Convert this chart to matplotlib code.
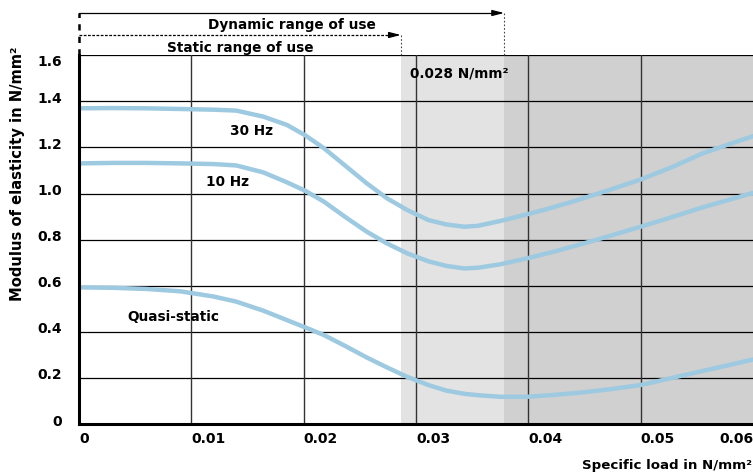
import matplotlib
matplotlib.use("Agg")
import matplotlib.pyplot as plt
import matplotlib.transforms as mtrans

# specific load (N/mm2) and modulus of elasticity (N/mm2)
load = [0, 0.003, 0.006, 0.009, 0.012, 0.014, 0.0164, 0.0185, 0.0201, 0.0218,
        0.0238, 0.0256, 0.0274, 0.0292, 0.0311, 0.0327, 0.0343, 0.0355, 0.0375,
        0.0399, 0.0422, 0.0446, 0.0473, 0.050, 0.0528, 0.0555, 0.0578, 0.060]
e_30hz = [1.370, 1.371, 1.370, 1.367, 1.364, 1.360, 1.334, 1.298, 1.254, 1.197,
          1.117, 1.045, 0.980, 0.929, 0.885, 0.866, 0.856, 0.860, 0.881,
          0.910, 0.940, 0.975, 1.017, 1.061, 1.115, 1.174, 1.213, 1.249]
e_10hz = [1.131, 1.133, 1.133, 1.131, 1.128, 1.122, 1.092, 1.049, 1.013, 0.965,
          0.895, 0.835, 0.784, 0.741, 0.706, 0.686, 0.675, 0.678, 0.693,
          0.719, 0.747, 0.779, 0.817, 0.856, 0.898, 0.940, 0.972, 1.003]
e_quasi = [0.593, 0.591, 0.586, 0.576, 0.553, 0.531, 0.492, 0.451, 0.420, 0.386,
           0.336, 0.289, 0.246, 0.205, 0.169, 0.145, 0.131, 0.125, 0.118,
           0.118, 0.126, 0.136, 0.151, 0.169, 0.200, 0.230, 0.255, 0.280]

static_end = 0.02865
dynamic_end = 0.03784

xticks = [0, 0.01, 0.02, 0.03, 0.04, 0.05, 0.06]
xticklabels = ['0', '0.01', '0.02', '0.03', '0.04', '0.05', '0.06']
yticks = [0, 0.2, 0.4, 0.6, 0.8, 1.0, 1.2, 1.4, 1.6]
yticklabels = ['0', '0.2', '0.4', '0.6', '0.8', '1.0', '1.2', '1.4', '1.6']

plt.rcParams['font.family'] = 'DejaVu Sans'
plt.rcParams['font.weight'] = 'bold'

fig = plt.figure(figsize=(7.53, 4.74), dpi=100)
ax = fig.add_axes([79/753, 50/474, 674/753, 368.7/474])

line_col = '#9dcae0'
ax.axvspan(static_end, dynamic_end, color='#e3e3e3', lw=0, zorder=0)
ax.axvspan(dynamic_end, 0.07, color='#d0d0d0', lw=0, zorder=0)

for y in yticks[1:]:
    ax.axhline(y, color='black', lw=0.9, zorder=1)
for x in xticks[1:-1]:
    ax.axvline(x, color='#333333', lw=1.0, zorder=1)

for vals in (e_30hz, e_10hz, e_quasi):
    ax.plot(load, vals, color=line_col, lw=3.2, solid_capstyle='round',
            solid_joinstyle='round', zorder=3)

ax.text(0.01537, 1.272, '30 Hz', fontsize=9.8, fontweight='bold', ha='center', va='center')
ax.text(0.01323, 1.051, '10 Hz', fontsize=9.8, fontweight='bold', ha='center', va='center')
ax.text(0.00836, 0.466, 'Quasi-static', fontsize=9.8, fontweight='bold', ha='center', va='center')
ax.text(0.0295, 1.523, '0.028 N/mm²', fontsize=9.8, fontweight='bold', ha='left', va='center')

ax.set_xlim(0, 0.06)
ax.set_ylim(0, 1.6)
ax.set_xticks(xticks)
ax.set_xticklabels(xticklabels)
ax.set_yticks(yticks)
ax.set_yticklabels(yticklabels)
ax.tick_params(axis='both', length=0, labelsize=10)
ax.tick_params(axis='x', pad=6)
ax.tick_params(axis='y', pad=12)
for lbl in ax.get_xticklabels():
    lbl.set_horizontalalignment('left')
ax.get_xticklabels()[-1].set_horizontalalignment('right')
# the y labels sit a few pixels above their grid lines in the original
for i, lbl in enumerate(ax.get_yticklabels()):
    dy = -5 if i == len(yticks) - 1 else 4
    lbl.set_transform(lbl.get_transform() + mtrans.ScaledTranslation(0, dy/100, fig.dpi_scale_trans))

for s in ['top', 'right']:
    ax.spines[s].set_visible(False)
for s in ['left', 'bottom']:
    ax.spines[s].set_linewidth(2.2)
    ax.spines[s].set_zorder(4)

# range-of-use arrows above the plot
trans = ax.get_xaxis_transform()
y_dyn = (424 - 13) / 368.7
y_sta = (424 - 35) / 368.7
ax.plot([0, 0], [1.0, y_dyn], transform=trans, clip_on=False, color='black',
        lw=1.8, linestyle=(0, (2.5, 2.5)))
ax.plot([0, dynamic_end - 0.0009], [y_dyn, y_dyn], transform=trans, clip_on=False,
        color='black', lw=0.9)
ax.plot([0, static_end - 0.0008], [y_sta, y_sta], transform=trans, clip_on=False,
        color='black', lw=0.9, linestyle=(0, (2.2, 1.2)))
for xe, ye in [(dynamic_end, y_dyn), (static_end, y_sta)]:
    ax.annotate('', xy=(xe, ye), xytext=(xe - 0.001, ye), xycoords=trans, textcoords=trans,
                arrowprops=dict(arrowstyle='-|>,head_length=0.7,head_width=0.18',
                                color='black', lw=0.9, shrinkA=0, shrinkB=0))
    ax.plot([xe, xe], [1.0, ye], transform=trans, clip_on=False, color='#444444',
            lw=0.8, linestyle=(0, (1.5, 1.8)))
ax.text(0.01895, (424 - 25) / 368.7, 'Dynamic range of use', transform=trans,
        fontsize=9.8, fontweight='bold', ha='center', va='center')
ax.text(0.01432, (424 - 48) / 368.7, 'Static range of use', transform=trans,
        fontsize=9.8, fontweight='bold', ha='center', va='center')

fig.text(18/753, (474 - 174)/474, 'Modulus of elasticity in N/mm²', rotation=90,
         fontsize=10.6, fontweight='bold', ha='center', va='center')
fig.text(752/753, (474 - 465)/474, 'Specific load in N/mm²', fontsize=9.6,
         fontweight='bold', ha='right', va='center')

fig.savefig('out.png', dpi=100)
